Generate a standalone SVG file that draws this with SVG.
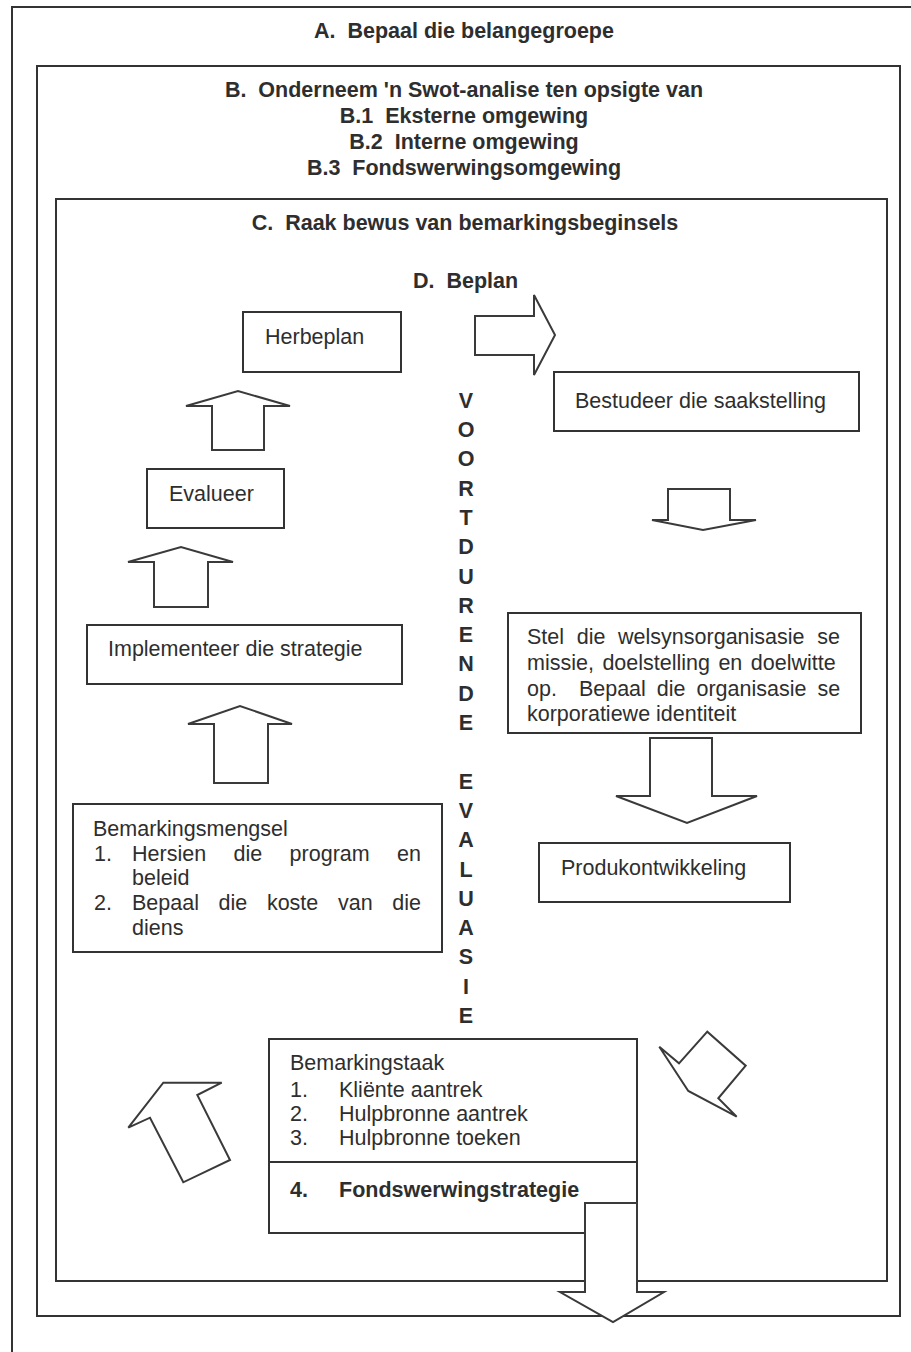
<svg xmlns="http://www.w3.org/2000/svg" width="911" height="1352" viewBox="0 0 911 1352" xml:space="preserve">
  <defs>
    <style>
      .frame { fill: none; stroke: #333; stroke-width: 2; }
      .box { fill: #fff; stroke: #333; stroke-width: 2; }
      .arrow { fill: #fff; stroke: #3a3a3a; stroke-width: 2; stroke-linejoin: miter; }
      text { font-family: "Liberation Sans", Arial, sans-serif; font-size: 21.5px; fill: #2e2e2e; white-space: pre; }
      .b { font-weight: bold; }
      .mid { text-anchor: middle; }
    </style>
  </defs>
  <rect width="911" height="1352" fill="#fff"/>

  <!-- nested frames A, B, C -->
  <g id="frame-a">
    <path class="frame" d="M12,1352 V7 H911"/>
    <text class="b mid" x="464" y="38" xml:space="preserve">A.  Bepaal die belangegroepe</text>
  </g>
  <g id="frame-b">
    <rect class="frame" x="37" y="66" width="863" height="1250"/>
    <text class="b mid" x="464" y="97" xml:space="preserve">B.  Onderneem 'n Swot-analise ten opsigte van</text>
    <text class="b mid" x="464" y="123" xml:space="preserve">B.1  Eksterne omgewing</text>
    <text class="b mid" x="464" y="149" xml:space="preserve">B.2  Interne omgewing</text>
    <text class="b mid" x="464" y="175" xml:space="preserve">B.3  Fondswerwingsomgewing</text>
  </g>
  <g id="frame-c">
    <rect class="frame" x="56" y="199" width="831" height="1082"/>
    <text class="b mid" x="465" y="230" xml:space="preserve">C.  Raak bewus van bemarkingsbeginsels</text>
    <text class="b" x="413" y="288" xml:space="preserve">D.  Beplan</text>
  </g>

  <!-- central vertical label -->
  <g id="evaluasie">
    <text class="b mid" x="466" y="408">V</text>
    <text class="b mid" x="466" y="437">O</text>
    <text class="b mid" x="466" y="466">O</text>
    <text class="b mid" x="466" y="496">R</text>
    <text class="b mid" x="466" y="525">T</text>
    <text class="b mid" x="466" y="554">D</text>
    <text class="b mid" x="466" y="584">U</text>
    <text class="b mid" x="466" y="613">R</text>
    <text class="b mid" x="466" y="642">E</text>
    <text class="b mid" x="466" y="671">N</text>
    <text class="b mid" x="466" y="701">D</text>
    <text class="b mid" x="466" y="730">E</text>
    <text class="b mid" x="466" y="789">E</text>
    <text class="b mid" x="466" y="818">V</text>
    <text class="b mid" x="466" y="847">A</text>
    <text class="b mid" x="466" y="877">L</text>
    <text class="b mid" x="466" y="906">U</text>
    <text class="b mid" x="466" y="935">A</text>
    <text class="b mid" x="466" y="964">S</text>
    <text class="b mid" x="466" y="994">I</text>
    <text class="b mid" x="466" y="1023">E</text>
  </g>

  <!-- process steps -->
  <g id="herbeplan">
    <rect class="box" x="243" y="312" width="158" height="60"/>
    <text x="265" y="344">Herbeplan</text>
  </g>
  <g id="bestudeer">
    <rect class="box" x="554" y="372" width="305" height="59"/>
    <text x="575" y="408">Bestudeer die saakstelling</text>
  </g>
  <g id="evalueer">
    <rect class="box" x="147" y="469" width="137" height="59"/>
    <text x="169" y="501">Evalueer</text>
  </g>
  <g id="implementeer">
    <rect class="box" x="87" y="625" width="315" height="59"/>
    <text x="108" y="656">Implementeer die strategie</text>
  </g>
  <g id="missie">
    <rect class="box" x="508" y="613" width="353" height="120"/>
    <text y="644"><tspan x="527">Stel</tspan><tspan x="576.7">die</tspan><tspan x="618.1">welsynsorganisasie</tspan><tspan x="817.2">se</tspan></text>
    <text y="670"><tspan x="527">missie,</tspan><tspan x="602.4">doelstelling</tspan><tspan x="718.4">en</tspan><tspan x="750.8">doelwitte</tspan></text>
    <text y="696"><tspan x="527">op.</tspan><tspan x="578.9">Bepaal</tspan><tspan x="656.8">die</tspan><tspan x="696.5">organisasie</tspan><tspan x="817.4">se</tspan></text>
    <text x="527" y="721">korporatiewe identiteit</text>
  </g>
  <g id="produk">
    <rect class="box" x="539" y="843" width="251" height="59"/>
    <text x="561" y="875">Produkontwikkeling</text>
  </g>
  <g id="bemarkingsmengsel">
    <rect class="box" x="73" y="804" width="369" height="148"/>
    <text x="93" y="836">Bemarkingsmengsel</text>
    <text y="861"><tspan x="94">1.</tspan><tspan x="132">Hersien</tspan><tspan x="233.5">die</tspan><tspan x="289.6">program</tspan><tspan x="397">en</tspan></text>
    <text x="132" y="885">beleid</text>
    <text y="910"><tspan x="94">2.</tspan><tspan x="132">Bepaal</tspan><tspan x="218.6">die</tspan><tspan x="266.9">koste</tspan><tspan x="338">van</tspan><tspan x="392.3">die</tspan></text>
    <text x="132" y="935">diens</text>
  </g>
  <g id="bemarkingstaak">
    <rect class="box" x="269" y="1039" width="368" height="194"/>
    <line class="frame" x1="269" y1="1162" x2="637" y2="1162"/>
    <text x="290" y="1070">Bemarkingstaak</text>
    <text y="1097"><tspan x="290">1.</tspan><tspan x="339">Kliënte aantrek</tspan></text>
    <text y="1121"><tspan x="290">2.</tspan><tspan x="339">Hulpbronne aantrek</tspan></text>
    <text y="1145"><tspan x="290">3.</tspan><tspan x="339">Hulpbronne toeken</tspan></text>
    <text class="b" y="1197"><tspan x="290">4.</tspan><tspan x="339">Fondswerwingstrategie</tspan></text>
  </g>

  <!-- block arrows between the steps -->
  <g id="connectors">
    <polygon class="arrow" points="475,316 534,316 534,295 555,335 534,375 534,355 475,355"/>
    <polygon class="arrow" points="668,489 730,489 730,520 756,520 703,530 652,520 668,520"/>
    <polygon class="arrow" points="650,738 712,738 712,796 757,796 687,823 616,796 650,796"/>
    <polygon class="arrow" points="659.3,1046.7 679,1063.3 707.3,1031.7 745.7,1065.7 718.3,1098.3 736.7,1116.7 688.3,1091"/>
    <polygon class="arrow" points="163.3,1082.7 221.7,1082.7 197.3,1095 230,1160 183.3,1182.3 150,1117.7 128.3,1127.7"/>
    <polygon class="arrow" points="214,783 214,724 188,724 240,706 292,724 268,724 268,783"/>
    <polygon class="arrow" points="154,607 154,562 128,562 181,547 233,562 208,562 208,607"/>
    <polygon class="arrow" points="212,450 212,406 186,406 238,391 290,406 264,406 264,450"/>
    <polygon class="arrow" points="585,1203 637,1203 637,1292 664,1292 613,1322 560,1292 585,1292"/>
  </g>
</svg>
